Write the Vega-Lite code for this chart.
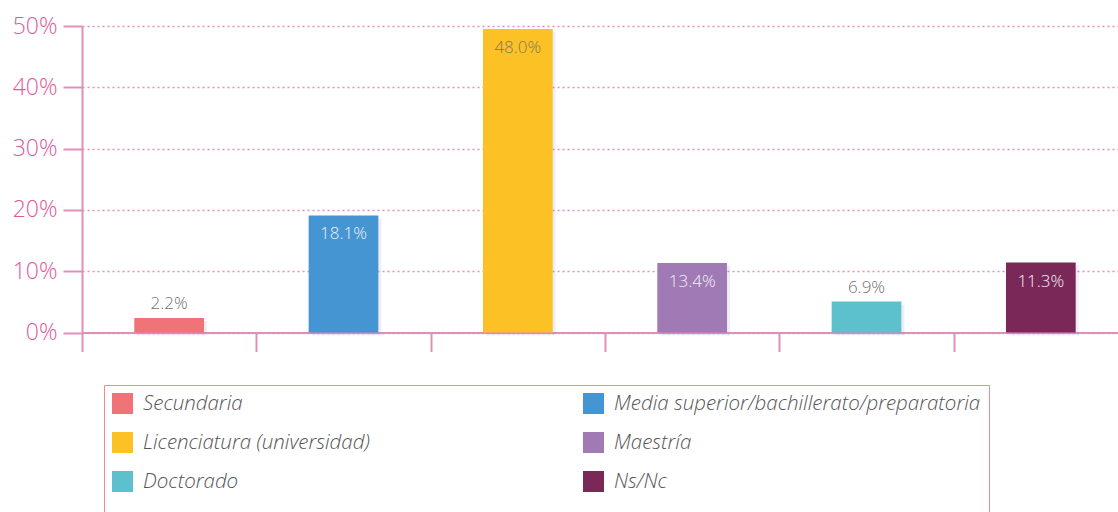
{
  "$schema": "https://vega.github.io/schema/vega-lite/v6.json",
  "width": 1046,
  "height": 306.5,
  "autosize": {"type": "none"},
  "padding": {"left": 82, "top": 26, "right": 0, "bottom": 180},
  "background": "white",
  "config": {"view": {"stroke": null}, "font": "Open Sans"},
  "data": {
    "values": [
      {"nivel": "Secundaria", "valor": 0.0237, "etiqueta": "2.2%"},
      {"nivel": "Media superior/bachillerato/preparatoria", "valor": 0.191, "etiqueta": "18.1%"},
      {"nivel": "Licenciatura (universidad)", "valor": 0.495, "etiqueta": "48.0%"},
      {"nivel": "Maestría", "valor": 0.1135, "etiqueta": "13.4%"},
      {"nivel": "Doctorado", "valor": 0.0505, "etiqueta": "6.9%"},
      {"nivel": "Ns/Nc", "valor": 0.114, "etiqueta": "11.3%"}
    ]
  },
  "encoding": {
    "x": {
      "field": "nivel",
      "type": "nominal",
      "sort": null,
      "scale": {"paddingInner": 0, "paddingOuter": 0},
      "axis": {
        "title": null,
        "labels": false,
        "ticks": true,
        "tickBand": "extent",
        "tickSize": 19,
        "tickWidth": 2,
        "tickColor": "#e08fb9",
        "domainColor": "#e08fb9",
        "domainWidth": 2,
        "grid": false
      }
    },
    "y": {
      "field": "valor",
      "type": "quantitative",
      "scale": {"domain": [0, 0.5], "nice": false},
      "axis": {
        "title": null,
        "values": [0, 0.1, 0.2, 0.3, 0.4, 0.5],
        "format": ".0%",
        "labelFontSize": 23,
        "labelFontWeight": 300,
        "labelColor": "#df5a9b",
        "labelPadding": 6,
        "tickSize": 19,
        "tickWidth": 2,
        "tickColor": "#e08fb9",
        "domainColor": "#e08fb9",
        "domainWidth": 2,
        "grid": true,
        "gridDash": [2, 3],
        "gridColor": "#e48cba",
        "gridWidth": 1.5
      }
    }
  },
  "layer": [
    {
      "mark": {"type": "bar", "width": {"band": 0.4}, "xOffset": 3, "yOffset": 3, "color": "#7b78c8", "opacity": 0.13}
    },
    {
      "mark": {"type": "bar", "width": {"band": 0.4}},
      "encoding": {
        "color": {
          "field": "nivel",
          "type": "nominal",
          "sort": null,
          "scale": {
            "domain": ["Secundaria", "Licenciatura (universidad)", "Doctorado", "Media superior/bachillerato/preparatoria", "Maestría", "Ns/Nc"],
            "range": ["#f07378", "#fcc124", "#5cc1cc", "#4595d3", "#a07ab4", "#7a2858"]
          },
          "legend": {
            "title": "\u00a0\u00a0\u00a0\u00a0\u00a0\u00a0\u00a0\u00a0\u00a0\u00a0\u00a0\u00a0\u00a0\u00a0\u00a0\u00a0\u00a0\u00a0\u00a0\u00a0\u00a0\u00a0\u00a0\u00a0\u00a0\u00a0\u00a0\u00a0\u00a0\u00a0\u00a0\u00a0\u00a0\u00a0\u00a0\u00a0\u00a0\u00a0\u00a0\u00a0\u00a0\u00a0\u00a0\u00a0\u00a0\u00a0\u00a0\u00a0\u00a0\u00a0\u00a0\u00a0\u00a0\u00a0\u00a0\u00a0\u00a0\u00a0\u00a0\u00a0\u00a0\u00a0\u00a0\u00a0\u00a0\u00a0\u00a0\u00a0\u00a0\u00a0\u00a0\u00a0\u00a0\u00a0\u00a0\u00a0\u00a0\u00a0\u00a0\u00a0\u00a0\u00a0\u00a0\u00a0",
            "titleOrient": "bottom",
            "titleFontSize": 40,
            "titleLimit": 2000,
            "titlePadding": 0,
            "orient": "none",
            "legendX": 22,
            "legendY": 359,
            "columns": 2,
            "gridAlign": "all",
            "columnPadding": 73,
            "rowPadding": 18,
            "symbolType": "square",
            "symbolSize": 441,
            "symbolStrokeWidth": 0,
            "labelFontSize": 20.5,
            "labelFontStyle": "italic",
            "labelFontWeight": 300,
            "labelColor": "#555555",
            "labelOffset": 10,
            "labelLimit": 500,
            "strokeColor": "#f08a93",
            "padding": 8
          }
        }
      }
    },
    {
      "transform": [{"filter": "datum.valor >= 0.1"}],
      "mark": {"type": "text", "baseline": "middle", "dy": 19, "fontSize": 17, "fontWeight": 300},
      "encoding": {
        "text": {"field": "etiqueta"},
        "color": {
          "condition": {"test": "datum.nivel === 'Licenciatura (universidad)'", "value": "#857a5c"},
          "value": "#f2f0f8"
        }
      }
    },
    {
      "transform": [{"filter": "datum.valor < 0.1"}],
      "mark": {"type": "text", "baseline": "middle", "dy": -14, "fontSize": 17, "fontWeight": 300, "color": "#707070"},
      "encoding": {
        "text": {"field": "etiqueta"}
      }
    }
  ]
}
